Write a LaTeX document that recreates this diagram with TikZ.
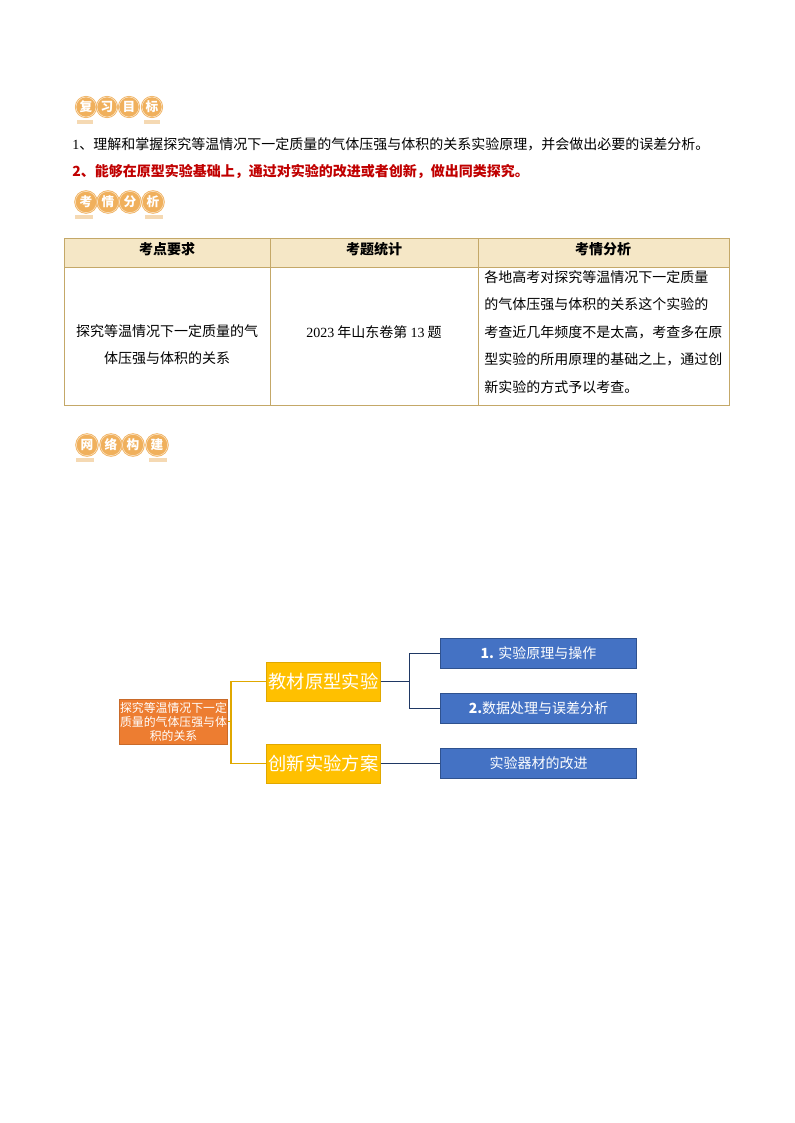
\documentclass[tikz,border=0pt]{standalone}
\usepackage{fontspec}
\setmainfont{Noto Sans CJK SC}
\newfontfamily\lat{Liberation Serif}
\definecolor{badge}{HTML}{F0B05C}
\definecolor{badgebar}{HTML}{F5D9B3}
\definecolor{tabline}{HTML}{C4A868}
\definecolor{tabhead}{HTML}{F5E7C6}
\definecolor{redtxt}{HTML}{C00000}
\definecolor{rootfill}{HTML}{ED7D31}
\definecolor{midfill}{HTML}{FFC000}
\definecolor{leaffill}{HTML}{4472C4}
\definecolor{leafline}{HTML}{2F528F}
\definecolor{navy}{HTML}{1F3864}
\definecolor{goldline}{HTML}{E0A800}
\tikzset{
  txt/.style={inner sep=0pt,font=\fontsize{10.5}{20.6}\selectfont},
  head/.style={txt,font=\fontsize{10.5}{20.6}\selectfont\bfseries},
  ball/.style={circle,minimum size=#1,inner sep=0pt,fill=badge,
    preaction={draw=badge,line width=1.6pt},draw=white!70!badge,line width=0.4pt,
    text=white,font=\fontsize{9.5}{10}\selectfont\bfseries},
  barmark/.style={draw=badgebar,line width=2.6pt},
  root/.style={fill=rootfill,draw=rootfill!85!black,line width=0.4pt,text=white,inner sep=0pt,
    minimum width=81.2pt,minimum height=33.4pt,align=center,
    font=\fontsize{8.9}{10.5}\selectfont},
  mid/.style={fill=midfill,draw=goldline,line width=0.4pt,text=white,inner sep=0pt,
    minimum width=85.7pt,minimum height=28.9pt,font=\fontsize{13.7}{15}\selectfont},
  leaf/.style={fill=leaffill,draw=leafline,line width=0.6pt,text=white,inner sep=0pt,
    minimum width=147.2pt,minimum height=22.9pt,font=\fontsize{10.5}{12}\selectfont},
}
\begin{document}
\begin{tikzpicture}[x=0.75pt,y=-0.75pt]
        \useasboundingbox (0,0) rectangle (794,1123);
        % Badges
        \foreach \x/\t [count=\i] in {86/复,107/习,129/目,152/标}
            \node[ball=15pt] (a\i) at (\x,107) {\t};
        \draw[barmark] (77,122) -- (93,122);
        \draw[barmark] (144,122) -- (160,122);
        \foreach \x/\t [count=\i] in {86/考,108/情,130/分,153/析}
            \node[ball=16pt] (b\i) at (\x,202) {\t};
        \draw[barmark] (75,217) -- (93,217);
        \draw[barmark] (145,217) -- (163,217);
        \foreach \x/\t [count=\i] in {87/网,111/络,133/构,157/建}
            \node[ball=16pt] (c\i) at (\x,445) {\t};
        \draw[barmark] (76,460) -- (94,460);
        \draw[barmark] (149,460) -- (167,460);
        % Objectifs
        \node[txt,anchor=west] (goalA) at (72,144) {{\lat 1}、理解和掌握探究等温情况下一定质量的气体压强与体积的关系实验原理，并会做出必要的误差分析。};
        \node[txt,anchor=west,text=redtxt,font=\fontsize{10.5}{12}\selectfont\bfseries] (goalB) at (72,171) {2、能够在原型实验基础上，通过对实验的改进或者创新，做出同类探究。};
        % Table
        \fill[tabhead] (64,238) rectangle (729,267);
        \draw[tabline,line width=0.6pt] (64,238) rectangle (729,405);
        \draw[tabline,line width=0.6pt] (64,267) -- (729,267);
        \draw[tabline,line width=0.6pt] (270,238) -- (270,405);
        \draw[tabline,line width=0.6pt] (478,238) -- (478,405);
        \node[head] (headA) at (167,249) {考点要求};
        \node[head] (headB) at (374,249) {考题统计};
        \node[head] (headC) at (603,249) {考情分析};
        \node[txt,align=center] (cellA) at (167,344.5) {探究等温情况下一定质量的气\\体压强与体积的关系};
        \node[txt] (cellB) at (374,332) {{\lat 2023} 年山东卷第 {\lat 13} 题};
        \node[txt,align=left,anchor=west] (cellC) at (484,332) {各地高考对探究等温情况下一定质量\\的气体压强与体积的关系这个实验的\\考查近几年频度不是太高，考查多在原\\型实验的所用原理的基础之上，通过创\\新实验的方式予以考查。};
        % Diagram
        \node[root] (root) at (173.5,721.5) {探究等温情况下一定\\质量的气体压强与体\\积的关系};
        \node[mid] (model) at (323.5,681.5) {教材原型实验};
        \node[mid] (novel) at (323.5,763.5) {创新实验方案};
        \node[leaf] (prin) at (538.5,653.5) {{\bfseries 1.} 实验原理与操作};
        \node[leaf] (data) at (538.5,708.5) {{\bfseries 2.}数据处理与误差分析};
        \node[leaf] (tool) at (538.5,763.5) {实验器材的改进};
        % Connectors
        \draw[goldline,line width=1pt] (root.east) -- ++(3,0) |- (model.west);
        \draw[goldline,line width=1pt] (root.east) -- ++(3,0) |- (novel.west);
        \draw[navy,line width=0.8pt] (model.east) -- ++(29,0) |- (prin.west);
        \draw[navy,line width=0.8pt] (model.east) -- ++(29,0) |- (data.west);
        \draw[navy,line width=0.8pt] (novel.east) -- (tool.west);
     \end{tikzpicture}
\end{document}
